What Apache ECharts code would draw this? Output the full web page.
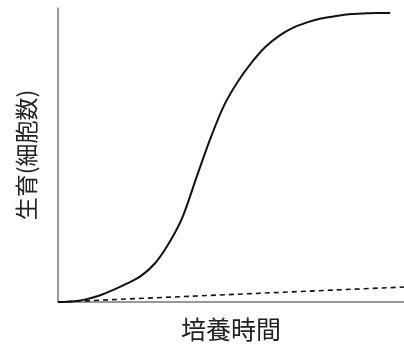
<!DOCTYPE html>
<html><head><meta charset="utf-8">
<script src="https://cdn.jsdelivr.net/npm/echarts@6/dist/echarts.min.js"></script>
<style>html,body{margin:0;padding:0;background:#fff}#c{width:404px;height:349px}</style>
</head><body><div id="c"></div>
<script>
const xLabel = '培養時間';
const yLabel = '生育(細胞数)';
const growthX = [0, 4, 8, 12, 16, 20, 24, 28, 32, 36, 40, 44, 48, 52, 56, 60, 64, 68, 72, 76, 80, 84, 88, 92, 96];
const growthY = [0, 0.2, 0.9, 2.2, 4.1, 6.3, 8.9, 13.1, 19.9, 28.9, 42.3, 55.5, 66.9, 75.0, 81.5, 86.8, 90.6, 93.3, 95.1, 96.4, 97.2, 97.9, 98.1, 98.3, 98.3];
const controlX = [0, 100];
const controlY = [0, 5.1];

const chart = echarts.init(document.getElementById('c'), null, {renderer: 'canvas'});
const font = '"Noto Sans CJK JP", sans-serif';
chart.setOption({
  animation: false,
  backgroundColor: '#fff',
  grid: {left: 58, right: 0, top: 8, bottom: 47},
  xAxis: {
    type: 'value', min: 0, max: 100,
    name: xLabel, nameLocation: 'middle', nameGap: 15,
    nameTextStyle: {fontFamily: font, fontSize: 25, color: '#222'},
    axisLine: {lineStyle: {color: '#777', width: 1.5}},
    axisTick: {show: false}, axisLabel: {show: false}, splitLine: {show: false}
  },
  yAxis: {
    type: 'value', min: 0, max: 100,
    name: yLabel, nameLocation: 'middle', nameGap: 20, nameRotate: 90,
    nameTextStyle: {fontFamily: font, fontSize: 23, color: '#222'},
    axisLine: {show: true, lineStyle: {color: '#777', width: 1.5}},
    axisTick: {show: false}, axisLabel: {show: false}, splitLine: {show: false}
  },
  series: [
    {type: 'line', data: growthX.map((x, i) => [x, growthY[i]]), smooth: 0.3, showSymbol: false,
     lineStyle: {color: '#111', width: 2}},
    {type: 'line', data: controlX.map((x, i) => [x, controlY[i]]), showSymbol: false,
     lineStyle: {color: '#111', width: 1.6, type: [5, 4]}}
  ]
});
</script></body></html>
